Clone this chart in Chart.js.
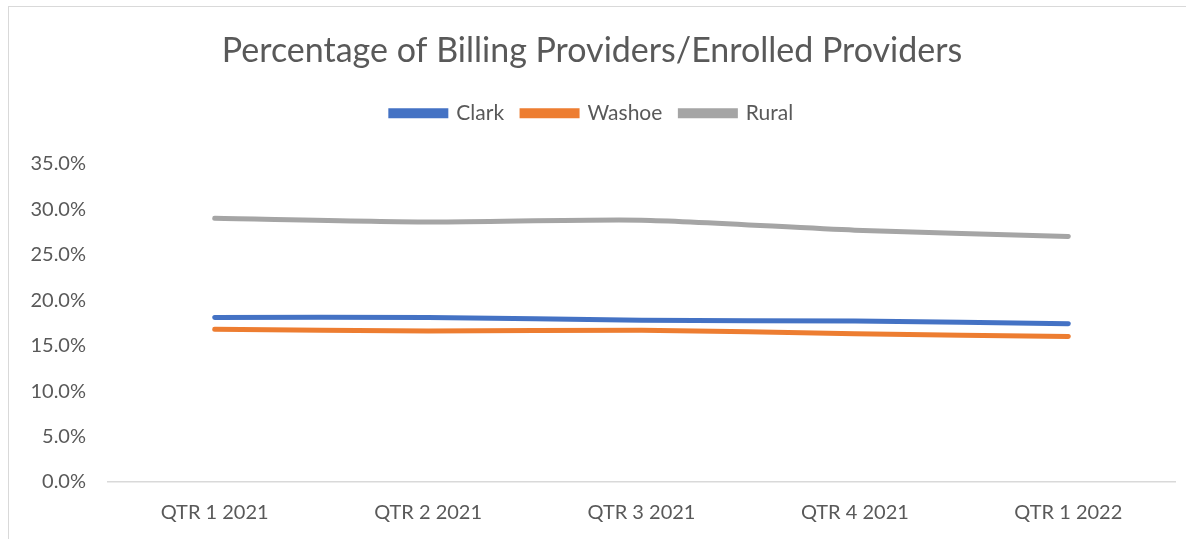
<!DOCTYPE html>
<html>
<head>
<meta charset="utf-8">
<script src="https://cdn.jsdelivr.net/npm/chart.js@4"></script>
<style>
    html, body { margin: 0; padding: 0; background: #fff; }
    #wrap {
        position: absolute; left: 8px; top: 6px;
        width: 1177px; height: 532px;
        border-top: 1px solid #d9d9d9; border-left: 1px solid #d9d9d9;
    }
</style>
</head>
<body>
<div id="wrap"><canvas id="chart"></canvas></div>
<script>
const quarters = ['QTR 1 2021', 'QTR 2 2021', 'QTR 3 2021', 'QTR 4 2021', 'QTR 1 2022']
const clark = [18.1, 18.1, 17.8, 17.7, 17.4]
const washoe = [16.8, 16.6, 16.7, 16.3, 16.0]
const rural = [29.0, 28.6, 28.8, 27.7, 27.0]
const yTicks = [0, 5, 10, 15, 20, 25, 30, 35]

const font = 'Lato, "Liberation Sans", sans-serif'
const textColor = '#595959'

function series(label, values, color) {
    return {
        label: label,
        data: values,
        borderColor: color,
        backgroundColor: color,
        borderWidth: 5,
        borderCapStyle: 'round',
        pointRadius: 0,
        tension: 0.25,
    }
}

// push the plot down a bit below the legend, like the excel original
const legendGap = {
    id: 'legendGap',
    beforeInit(chart) {
        const fit = chart.legend.fit
        chart.legend.fit = function () {
            fit.bind(chart.legend)()
            this.height += 30
        }
    },
}

new Chart(document.getElementById('chart'), {
    type: 'line',
    data: {
        labels: quarters,
        datasets: [
            series('Clark', clark, '#4472C4'),
            series('Washoe', washoe, '#ED7D31'),
            series('Rural', rural, '#A5A5A5'),
        ],
    },
    plugins: [legendGap],
    options: {
        responsive: true,
        maintainAspectRatio: false,
        animation: false,
        layout: { padding: { left: 0, right: 11, top: 24, bottom: 0 } },
        plugins: {
            title: {
                display: true,
                text: 'Percentage of Billing Providers/Enrolled Providers',
                color: textColor,
                font: { family: font, size: 34, weight: 'normal' },
                padding: { top: 0, bottom: 13 },
            },
            legend: {
                position: 'top',
                labels: {
                    color: textColor,
                    font: { family: font, size: 21 },
                    boxWidth: 55,
                    boxHeight: 5,
                    padding: 18,
                },
            },
            tooltip: { enabled: false },
        },
        scales: {
            x: {
                offset: true,
                afterFit: (s) => { s.height = 57 },
                grid: { display: false, drawTicks: false },
                border: { display: true, color: '#d9d9d9', width: 1.5 },
                ticks: {
                    color: textColor,
                    font: { family: font, size: 20 },
                    padding: 19,
                    maxRotation: 0,
                },
            },
            y: {
                min: 0,
                max: 35,
                afterBuildTicks: (s) => { s.ticks = yTicks.map((v) => ({ value: v })) },
                afterFit: (s) => { s.width = 99 },
                grid: { display: false, drawTicks: false },
                border: { display: false },
                ticks: {
                    color: textColor,
                    font: { family: font, size: 20 },
                    padding: 22,
                    callback: (v) => v.toFixed(1) + '%',
                },
            },
        },
    },
})
</script>
</body>
</html>
